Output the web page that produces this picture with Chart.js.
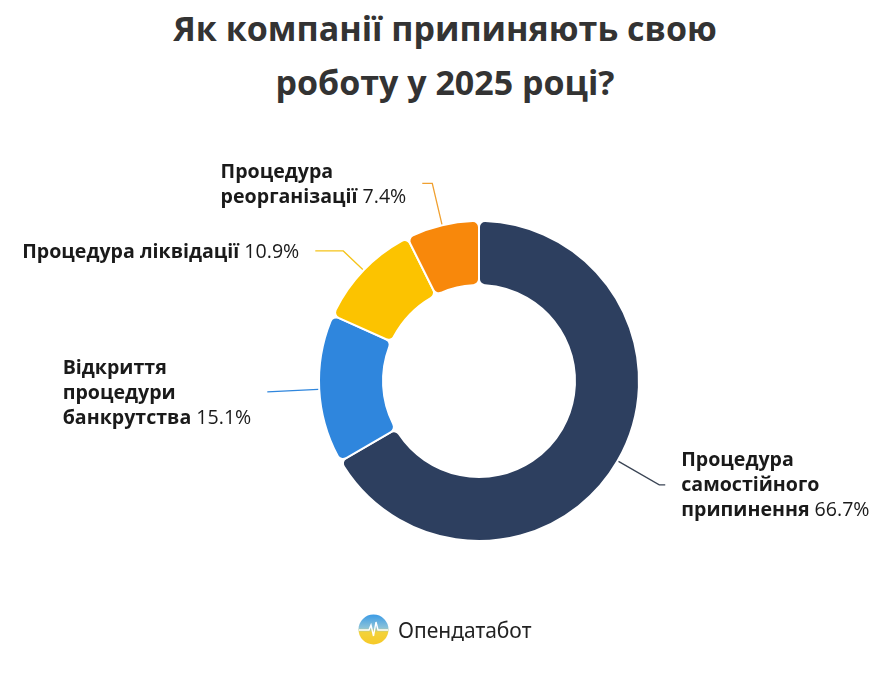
<!DOCTYPE html>
<html lang="uk">
<head>
<meta charset="utf-8">
<title>Як компанії припиняють свою роботу у 2025 році?</title>
<script src="https://cdn.jsdelivr.net/npm/chart.js@4.4.1/dist/chart.umd.min.js"></script>
<style>
    html, body { margin: 0; padding: 0; background: #fff; }
    #wrap { position: relative; width: 890px; height: 675px; overflow: hidden; font-family: "Open Sans", sans-serif; }
    h1 { position: absolute; top: 1px; left: 0; width: 890px; margin: 0; text-align: center;
         font-size: 34px; line-height: 54px; font-weight: 700; color: #333; }
    #chart { position: absolute; left: 0; top: 0; }
    .logo { position: absolute; left: 358px; top: 614px; display: flex; align-items: center; }
    .logo span { margin-left: 9px; font-size: 21px; color: #222; font-family: "Noto Sans", sans-serif; }
</style>
</head>
<body>
<div id="wrap">
    <h1>Як компанії припиняють свою<br>роботу у 2025 році?</h1>
    <canvas id="chart" width="890" height="675"></canvas>
    <div class="logo">
        <svg width="31" height="31" viewBox="0 0 31 31">
            <defs>
                <linearGradient id="lg" x1="0" y1="0" x2="0" y2="1">
                    <stop offset="0" stop-color="#3b9be6"/>
                    <stop offset="0.45" stop-color="#8cc3d8"/>
                    <stop offset="0.6" stop-color="#f3d23a"/>
                    <stop offset="1" stop-color="#f6c928"/>
                </linearGradient>
            </defs>
            <circle cx="15.5" cy="15.5" r="15" fill="url(#lg)"/>
            <polyline points="1,16 11,16 13,11 15.5,22 18,8 20,16 30,16" fill="none" stroke="#fff" stroke-width="1.4"/>
        </svg>
        <span>Опендатабот</span>
    </div>
</div>
<script>
// дані діаграми
const categories = [
    ['Процедура', 'самостійного', 'припинення'],
    ['Відкриття', 'процедури', 'банкрутства'],
    ['Процедура ліквідації'],
    ['Процедура', 'реорганізації']
];
const shares = [66.7, 15.1, 10.9, 7.4];
const segmentColors = ['#2d3f5f', '#2f86dd', '#fcc300', '#f8880b'];
const leaderColors = ['#3a4454', '#2f86dd', '#f5c41a', '#f0a030'];

// виноски: наскільки далеко від кільця злам і довжина горизонтальної частини
const leaderLayout = [
    { elbow: 48, run: 6 },
    { elbow: 52, run: 0 },
    { elbow: 28, run: 28 },
    { elbow: 43, run: 10 }
];

const calloutPlugin = {
    id: 'callouts',
    afterDatasetsDraw(chart) {
        const ctx = chart.ctx;
        const meta = chart.getDatasetMeta(0);
        const lineH = 25;
        const gap = 16;
        meta.data.forEach((arc, i) => {
            const p = arc.getProps(['x', 'y', 'startAngle', 'endAngle', 'outerRadius'], true);
            const mid = (p.startAngle + p.endAngle) / 2;
            const dx = Math.cos(mid), dy = Math.sin(mid);
            const lay = leaderLayout[i];
            const x0 = p.x + dx * (p.outerRadius + 1), y0 = p.y + dy * (p.outerRadius + 1);
            const x1 = p.x + dx * (p.outerRadius + lay.elbow), y1 = p.y + dy * (p.outerRadius + lay.elbow);
            const side = dx < 0 ? -1 : 1;
            const x2 = x1 + side * lay.run;

            ctx.save();
            ctx.strokeStyle = leaderColors[i];
            ctx.lineWidth = 1.3;
            ctx.beginPath();
            ctx.moveTo(x0, y0);
            ctx.lineTo(x1, y1);
            ctx.lineTo(x2, y1);
            ctx.stroke();

            // текст
            const lines = categories[i];
            const pct = ' ' + shares[i].toFixed(1) + '%';
            const boldFont = '700 19.6px "Open Sans", sans-serif';
            const normFont = '400 19.6px "Open Sans", sans-serif';
            let maxW = 0;
            lines.forEach((ln, k) => {
                ctx.font = boldFont;
                let w = ctx.measureText(ln).width;
                if (k === lines.length - 1) {
                    ctx.font = normFont;
                    w += ctx.measureText(pct).width;
                }
                maxW = Math.max(maxW, w);
            });
            const left = side < 0 ? x2 - gap - maxW : x2 + gap;
            const top = y1 - (lines.length - 1) * lineH / 2 + 1;
            ctx.fillStyle = '#1a1a1a';
            ctx.textBaseline = 'middle';
            ctx.textAlign = 'left';
            lines.forEach((ln, k) => {
                const y = top + k * lineH;
                ctx.font = boldFont;
                ctx.fillText(ln, left, y);
                if (k === lines.length - 1) {
                    const w = ctx.measureText(ln).width;
                    ctx.font = normFont;
                    ctx.fillText(pct, left + w, y);
                }
            });
            ctx.restore();
        });
    }
};

new Chart(document.getElementById('chart'), {
    type: 'doughnut',
    data: {
        labels: categories.map(c => c.join(' ')),
        datasets: [{
            data: shares,
            backgroundColor: segmentColors,
            borderColor: '#ffffff',
            borderWidth: 2,
            borderRadius: 6,
            hoverOffset: 0
        }]
    },
    options: {
        responsive: false,
        animation: false,
        cutout: '60%',
        rotation: 0,
        layout: {
            padding: { left: 318, right: 250, top: 220, bottom: 133 }
        },
        plugins: {
            legend: { display: false },
            tooltip: { enabled: false },
            title: { display: false }
        }
    },
    plugins: [calloutPlugin]
});
</script>
</body>
</html>
